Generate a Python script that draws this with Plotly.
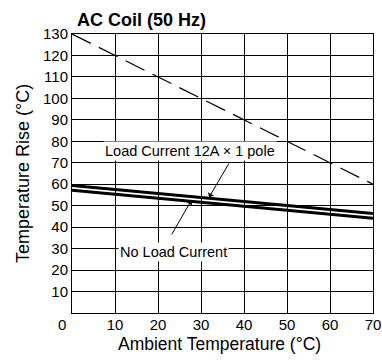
import plotly.graph_objects as go

ambient = [0, 70]
load_current = [59.4, 46.3]
no_load = [57.2, 44.2]
limit_line = [130, 60]
x_ticks = [10, 20, 30, 40, 50, 60, 70]
y_ticks = [10, 20, 30, 40, 50, 60, 70, 80, 90, 100, 110, 120, 130]

FONT = "Liberation Sans, Arial, sans-serif"
W, H = 382, 361

fig = go.Figure()
fig.add_trace(go.Scatter(x=ambient, y=limit_line, mode="lines",
                         line=dict(color="black", width=1.2, dash="21px,9px")))
fig.add_trace(go.Scatter(x=ambient, y=load_current, mode="lines",
                         line=dict(color="black", width=3)))
fig.add_trace(go.Scatter(x=ambient, y=no_load, mode="lines",
                         line=dict(color="black", width=3)))

axis_common = dict(showgrid=True, gridcolor="black", gridwidth=1,
                   showline=True, linecolor="black", linewidth=1, mirror=True,
                   zeroline=False, ticks="", automargin=False,
                   tickfont=dict(size=15, color="black", family=FONT))

fig.update_xaxes(range=[0, 70], tickvals=x_ticks, ticklabelstandoff=-2, **axis_common)
fig.update_yaxes(range=[0, 130], tickvals=y_ticks, title=dict(text="Temperature Rise (°C)",
                 font=dict(size=18, color="black", family=FONT), standoff=8), **axis_common)

annotations = [
    dict(x=0, y=0, xref="x", yref="y", text="0", showarrow=False, xshift=-10, yshift=-11,
         font=dict(size=15, color="black", family=FONT)),
    dict(x=0.49, y=-(344 - 313) / 279, xref="paper", yref="paper", text="Ambient Temperature (°C)",
         showarrow=False, xanchor="center", yanchor="middle",
         font=dict(size=17.5, color="black", family=FONT)),
    dict(x=27.4, y=75.5, xref="x", yref="y", text="Load Current 12A × 1 pole", showarrow=False,
         bgcolor="white", font=dict(size=14.5, color="black", family=FONT)),
    dict(x=31.9, y=54.0, ax=36.7, ay=70.4, xref="x", yref="y", axref="x", ayref="y",
         text="", showarrow=True, arrowhead=1, arrowsize=1.2, arrowwidth=1, arrowcolor="black"),
    dict(x=23.7, y=28.4, xref="x", yref="y", text="No Load Current", showarrow=False,
         bgcolor="white", font=dict(size=14.5, color="black", family=FONT)),
    dict(x=27.7, y=52.3, ax=23.0, ay=35.9, xref="x", yref="y", axref="x", ayref="y",
         text="", showarrow=True, arrowhead=1, arrowsize=1.2, arrowwidth=1, arrowcolor="black"),
]

fig.update_layout(
    width=W, height=H,
    margin=dict(l=72, r=9, t=34, b=48),
    paper_bgcolor="white", plot_bgcolor="white",
    showlegend=False,
    title=dict(text="<b>AC Coil (50 Hz)</b>", x=77 / W, xanchor="left", y=1 - 20 / H, yanchor="middle",
               font=dict(size=18, color="black", family=FONT)),
    annotations=annotations,
)

fig.write_html("out.html", config={"displayModeBar": False},
               post_script="document.body.style.margin='0';document.body.style.overflow='hidden';")
